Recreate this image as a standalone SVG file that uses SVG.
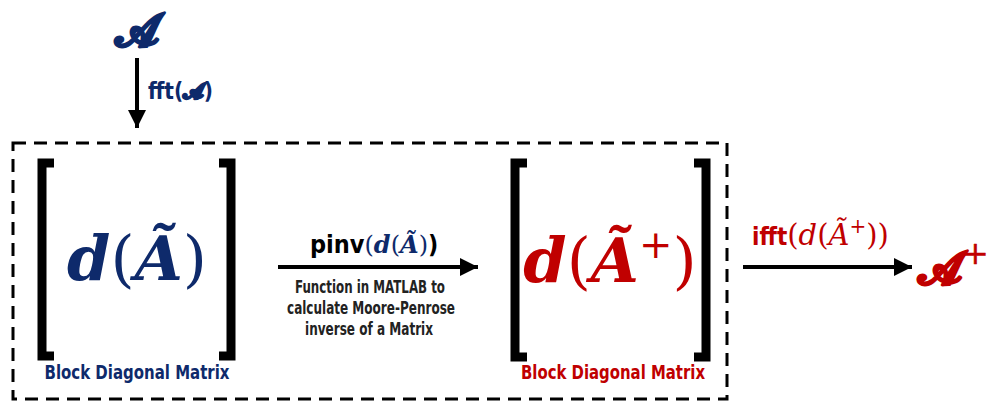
<svg xmlns="http://www.w3.org/2000/svg" width="990" height="407" viewBox="0 0 990 407">
<style>
.math{font-family:"DejaVu Serif","Liberation Serif",serif;font-weight:bold;font-style:italic}
.mathi{font-family:"DejaVu Serif","Liberation Serif",serif;font-style:italic;font-weight:normal}
.mathn{font-family:"DejaVu Serif","Liberation Serif",serif;font-style:normal;font-weight:normal}
.scr{font-family:"DejaVu Serif","Liberation Serif",serif;font-weight:bold;stroke-width:1.6;stroke-linejoin:round}
.lbl{font-family:"DejaVu Sans Condensed","DejaVu Sans",sans-serif;font-weight:bold}
.navy{fill:#0E2A6B}
.red{fill:#C00000}
.br{fill:none;stroke:#000;stroke-width:9;stroke-linecap:butt}
.ln{stroke:#000;stroke-width:4;fill:none}
</style>
<defs>
<marker id="ah" viewBox="0 0 10 10" refX="10" refY="5" markerWidth="4.5" markerHeight="4.5" markerUnits="strokeWidth" orient="auto">
<path d="M0,0 L10,5 L0,10 z" fill="#000"/>
</marker>
</defs>
<rect x="0" y="0" width="990" height="407" fill="#fff"/>
<g id="frame">
<rect x="13" y="143" width="714" height="256" fill="none" stroke="#000" stroke-width="3" stroke-dasharray="13,8"/>
</g>
<g id="inputA">
<text x="137" y="46" class="scr navy" stroke="#0E2A6B" font-size="46" text-anchor="middle">𝓐</text>
</g>
<g id="left">
<path class="br" d="M54,163 H42 V356 H54"/>
<path class="br" d="M219,163 H231 V356 H219"/>
<text x="137" y="280" class="math navy" font-size="62" text-anchor="middle">d<tspan class="mathn">(</tspan>Ã<tspan class="mathn">)</tspan></text>
<text x="137" y="379" class="lbl navy" font-size="20" text-anchor="middle" textLength="185" lengthAdjust="spacingAndGlyphs">Block Diagonal Matrix</text>
</g>
<g id="right">
<path class="br" d="M527,163 H515 V357 H527"/>
<path class="br" d="M694,163 H706 V357 H694"/>
<text x="610" y="282" class="math red" font-size="62" text-anchor="middle">d<tspan class="mathn">(</tspan>Ã<tspan class="mathn" font-size="40" dy="-24">+</tspan><tspan class="mathn" dy="24">)</tspan></text>
<text x="613" y="379" class="lbl red" font-size="20" text-anchor="middle" textLength="184" lengthAdjust="spacingAndGlyphs">Block Diagonal Matrix</text>
</g>
<g id="outputA">
<text x="918" y="284" class="scr red" stroke="#C00000" font-size="46">𝓐<tspan class="mathn" font-size="32" dy="-20" stroke-width="0.5">+</tspan></text>
</g>
<g id="connectors">
<line class="ln" x1="137" y1="58" x2="137" y2="128" marker-end="url(#ah)"/>
<line class="ln" x1="278" y1="267" x2="478" y2="267" marker-end="url(#ah)"/>
<line class="ln" x1="743" y1="267" x2="912" y2="267" marker-end="url(#ah)"/>
<text x="148" y="99" class="lbl navy" font-size="23" textLength="65" lengthAdjust="spacingAndGlyphs">fft(<tspan class="scr" stroke="#0E2A6B" stroke-width="0.8" font-size="22">𝓐</tspan>)</text>
<text x="310" y="253" class="lbl" font-size="25" fill="#000">pinv<tspan class="mathn navy" font-size="24">(</tspan><tspan class="math navy" font-size="24">d</tspan><tspan class="mathn navy" font-size="24">(</tspan><tspan class="math navy" font-size="24">Ã</tspan><tspan class="mathn navy" font-size="24">)</tspan>)</text>
<text x="370" y="293" class="lbl" font-size="17" text-anchor="middle" fill="#222" textLength="150" lengthAdjust="spacingAndGlyphs">Function in MATLAB to</text>
<text x="371" y="314" class="lbl" font-size="17" text-anchor="middle" fill="#222" textLength="168" lengthAdjust="spacingAndGlyphs">calculate Moore-Penrose</text>
<text x="369" y="335" class="lbl" font-size="17" text-anchor="middle" fill="#222" textLength="128" lengthAdjust="spacingAndGlyphs">inverse of a Matrix</text>
<text x="752" y="245" class="lbl red" font-size="24">ifft<tspan class="mathn" font-size="29">(</tspan><tspan class="mathi" font-size="29">d</tspan><tspan class="mathn" font-size="29">(</tspan><tspan class="mathi" font-size="29">Ã</tspan><tspan class="mathn" font-size="20" dy="-12">+</tspan><tspan class="mathn" font-size="29" dy="12">))</tspan></text>
</g>
</svg>
